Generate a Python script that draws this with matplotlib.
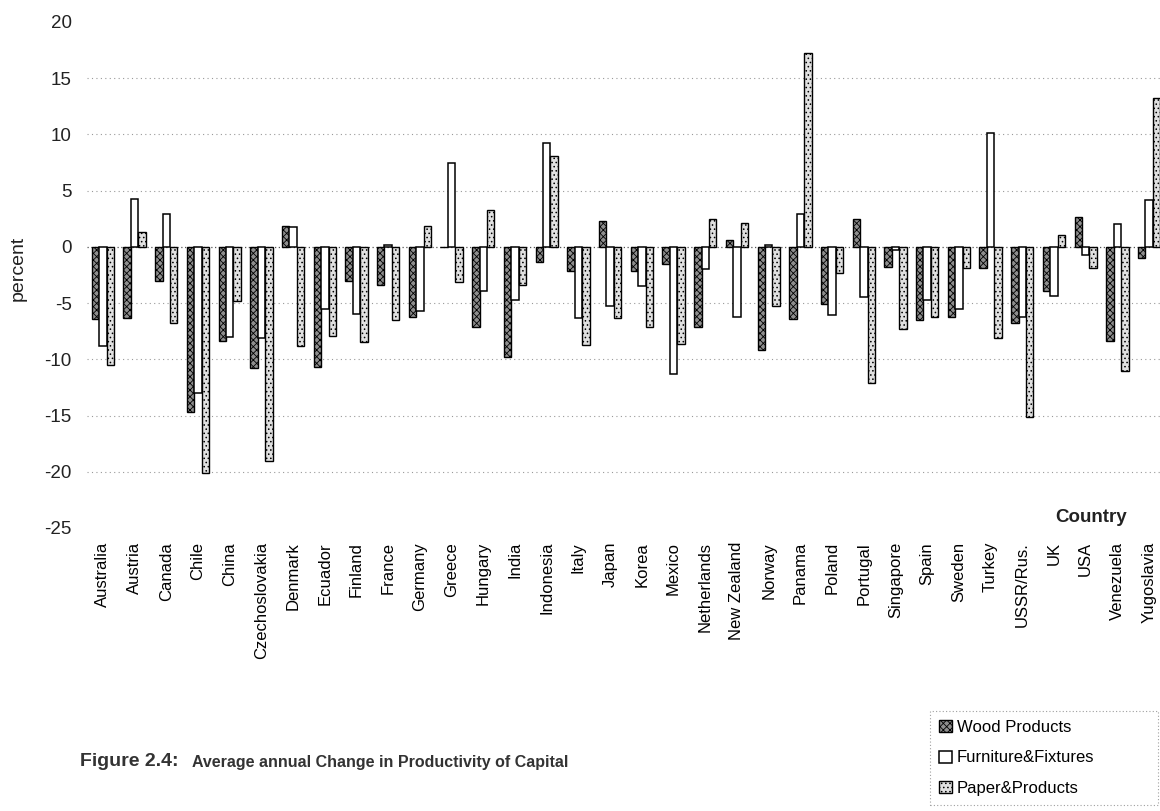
import numpy as np
import matplotlib
matplotlib.use("Agg")
import matplotlib.pyplot as plt
import matplotlib.patches as mpatches

plt.rcParams["font.family"] = ["Liberation Sans", "DejaVu Sans"]
plt.rcParams["hatch.linewidth"] = 0.6
plt.rcParams["axes.unicode_minus"] = False

countries = ["Australia", "Austria", "Canada", "Chile", "China", "Czechoslovakia",
             "Denmark", "Ecuador", "Finland", "France", "Germany", "Greece",
             "Hungary", "India", "Indonesia", "Italy", "Japan", "Korea", "Mexico",
             "Netherlands", "New Zealand", "Norway", "Panama", "Poland", "Portugal",
             "Singapore", "Spain", "Sweden", "Turkey", "USSR/Rus.", "UK", "USA",
             "Venezuela", "Yugoslavia"]

wood = [-6.4, -6.3, -3.05, -14.7, -8.4, -10.8,
        1.9, -10.7, -3.0, -3.4, -6.2, 0.0,
        -7.1, -9.8, -1.3, -2.1, 2.3, -2.1, -1.5,
        -7.1, 0.65, -9.2, -6.4, -5.1, 2.5,
        -1.8, -6.5, -6.2, -1.85, -6.8, -3.9, 2.7,
        -8.4, -1.0]

furniture = [-8.8, 4.3, 2.9, -13.0, -8.0, -8.1,
             1.75, -5.5, -6.0, 0.2, -5.7, 7.5,
             -3.9, -4.7, 9.25, -6.3, -5.3, -3.5, -11.3,
             -1.95, -6.2, 0.2, 2.9, -6.1, -4.5,
             -0.3, -4.7, -5.5, 10.1, -6.25, -4.4, -0.75,
             2.0, 4.2]

paper = [-10.5, 1.35, -6.8, -20.1, -4.85, -19.0,
         -8.8, -7.9, -8.5, -6.5, 1.9, -3.1,
         3.3, -3.4, 8.1, -8.7, -6.3, -7.1, -8.6,
         2.5, 2.1, -5.3, 17.2, -2.3, -12.1,
         -7.3, -6.2, -1.9, -8.1, -15.1, 1.1, -1.85,
         -11.0, 13.2]

W, H = 1160, 811
fig = plt.figure(figsize=(W / 100, H / 100), dpi=100)
ax = fig.add_axes([87 / W, 1 - 528 / H, 1078 / W, 506 / H])

x = np.arange(len(countries))
bw = 0.235
wood_style = dict(facecolor="#8e8e8e", edgecolor="black", hatch="xxxxx", linewidth=1.0)
furn_style = dict(facecolor="white", edgecolor="black", linewidth=1.1)
paper_style = dict(facecolor="#e0e0e0", edgecolor="black", hatch="....", linewidth=1.0)

ax.bar(x - bw, wood, width=bw, zorder=3, **wood_style)
ax.bar(x, furniture, width=bw, zorder=3, **furn_style)
ax.bar(x + bw, paper, width=bw, zorder=3, **paper_style)

for yv in [15, 10, 5, -5, -10, -15, -20]:
    ax.axhline(yv, color="#9a9a9a", linestyle=(0, (1, 3)), linewidth=0.8, zorder=1)
ax.axhline(0, color="#555555", linestyle=(0, (1, 2)), linewidth=0.9, zorder=2)

ax.set_xlim(-0.5, len(countries) - 0.5)
ax.set_ylim(-25, 20)
ax.set_yticks(np.arange(-25, 21, 5))
ax.tick_params(axis="y", length=0, pad=11, labelsize=13.5, labelcolor="#222222")
ax.set_xticks(x)
ax.set_xticklabels(countries, rotation=90, fontsize=12, va="top", ha="center")
ax.tick_params(axis="x", length=0, pad=10)
for s in ax.spines.values():
    s.set_visible(False)

fig.text(18 / W, 1 - 268 / H, "percent", rotation=90, ha="center", va="center",
         fontsize=14, color="#222222")
fig.text(1091 / W, 1 - 517 / H, "Country", ha="center", va="center",
         fontsize=13.5, fontweight="bold", color="#222222")

fig.text(80 / W, 1 - 762 / H, "Figure 2.4:", ha="left", va="center",
         fontsize=14, fontweight="bold", color="#333333")
fig.text(192 / W, 1 - 762 / H, "Average annual Change in Productivity of Capital",
         ha="left", va="center", fontsize=11.5, fontweight="bold", color="#333333")

handles = [
    mpatches.Patch(label="Wood Products", **wood_style),
    mpatches.Patch(label="Furniture&Fixtures", **furn_style),
    mpatches.Patch(label="Paper&Products", **paper_style),
]
leg = fig.legend(handles=handles, loc="upper left",
                 bbox_to_anchor=(930 / W, 1 - 811 / H, 228 / W, 100 / H), mode="expand",
                 fontsize=12, handlelength=0.75, handleheight=0.75, handletextpad=0.3,
                 labelspacing=0.92, borderpad=0.55, borderaxespad=0, fancybox=False,
                 frameon=True)
leg.get_frame().set_edgecolor("#888888")
leg.get_frame().set_linestyle((0, (1, 2)))
leg.get_frame().set_linewidth(0.8)

fig.savefig("out.png", dpi=100)
